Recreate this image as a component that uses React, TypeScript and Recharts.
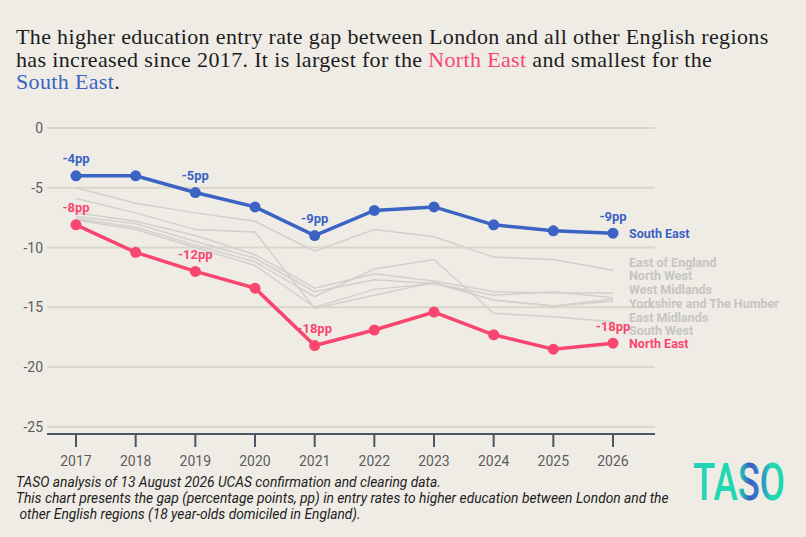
import React from 'react';
import { LineChart, Line, XAxis, YAxis, CartesianGrid, LabelList } from 'recharts';

const years = ['2017', '2018', '2019', '2020', '2021', '2022', '2023', '2024', '2025', '2026'];
const southEast = [-4.0, -4.0, -5.4, -6.6, -9.0, -6.9, -6.6, -8.1, -8.6, -8.8];
const northEast = [-8.1, -10.4, -12.0, -13.4, -18.2, -16.9, -15.4, -17.3, -18.5, -18.0];
const eastOfEngland = [-5.0, -6.3, -7.1, -7.8, -10.3, -8.5, -9.1, -10.8, -11.0, -11.9];
const northWest = [-7.1, -7.8, -9.0, -10.6, -13.4, -12.2, -12.8, -13.7, -13.8, -13.8];
const westMidlands = [-7.4, -8.0, -9.5, -10.9, -13.7, -12.7, -13.0, -14.0, -13.7, -14.2];
const yorkshire = [-5.9, -7.1, -8.5, -8.7, -15.1, -14.0, -12.9, -14.4, -14.9, -14.3];
const eastMidlands = [-7.7, -8.5, -10.0, -11.5, -15.0, -13.5, -13.0, -14.4, -14.9, -14.5];
const southWest = [-7.6, -8.3, -9.8, -11.2, -14.1, -11.8, -11.0, -15.5, -15.8, -16.2];
const yTicks = [0, -5, -10, -15, -20, -25];
const labelledIdx = [0, 2, 4, 9];

const greySeries = [
  { key: 'eoe', name: 'East of England', values: eastOfEngland, dy: -8 },
  { key: 'nw', name: 'North West', values: northWest, dy: -17 },
  { key: 'wm', name: 'West Midlands', values: westMidlands, dy: -8 },
  { key: 'yh', name: 'Yorkshire and The Humber', values: yorkshire, dy: 5 },
  { key: 'em', name: 'East Midlands', values: eastMidlands, dy: 16 },
  { key: 'sw', name: 'South West', values: southWest, dy: 9 },
];

const data = years.map((year, i) => {
  const row: any = { year, se: southEast[i], ne: northEast[i] };
  greySeries.forEach((g) => (row[g.key] = g.values[i]));
  return row;
});

const BLUE = '#3b63c3';
const PINK = '#f8466f';
const GREY_LINE = '#d2d0cb';
const GREY_TEXT = '#c6c5c1';
const FONT = 'Roboto, "Noto Sans", sans-serif';

const endLabel = (name: string, color: string, dy: number) => (p: any) => {
  if (p.index !== years.length - 1) return null;
  return (
    <text x={p.x + 16} y={p.y + dy} fill={color} fontSize={12.5} fontWeight={700} fontFamily={FONT} dominantBaseline="central">
      {name}
    </text>
  );
};

const valueLabel = (color: string) => (p: any) => {
  if (!labelledIdx.includes(p.index)) return null;
  return (
    <text x={p.x} y={p.y - 17} fill={color} fontSize={13} fontWeight={700} fontFamily={FONT} textAnchor="middle" dominantBaseline="central">
      {`${Math.round(p.value)}pp`}
    </text>
  );
};

export default function App() {
  return (
    <div style={{ position: 'absolute', left: 0, top: 0, width: 806, height: 537, background: '#efece6', overflow: 'hidden' }}>
      <div
        style={{
          position: 'absolute',
          left: 16,
          top: 26,
          fontFamily: '"Liberation Serif", serif',
          fontSize: 22,
          letterSpacing: 0.35,
          lineHeight: '22.5px',
          color: '#1c1c1c',
          whiteSpace: 'nowrap',
        }}
      >
        The higher education entry rate gap between London and all other English regions
        <br />
        has increased since 2017. It is largest for the <span style={{ color: PINK }}>North East</span> and smallest for the
        <br />
        <span style={{ color: BLUE }}>South East</span>.
      </div>
      <div style={{ position: 'absolute', left: 0, top: 0 }}>
        <LineChart width={806} height={537} data={data} margin={{ top: 128, right: 151, bottom: 73, left: 7 }}>
          <CartesianGrid vertical={false} stroke="#dad6cb" strokeWidth={2} />
          <XAxis
            dataKey="year"
            type="category"
            scale="point"
            height={30}
            padding={{ left: 29, right: 42 }}
            axisLine={{ stroke: '#4b5563', strokeWidth: 2 }}
            tickLine={{ stroke: '#4b5563', strokeWidth: 2 }}
            tickSize={13}
            tickMargin={9}
            tick={{ fill: '#5c5c5c', fontSize: 14, fontFamily: FONT }}
          />
          <YAxis
            type="number"
            domain={[-25.6, 0]}
            ticks={yTicks}
            width={40}
            axisLine={false}
            tickLine={false}
            tickSize={0}
            tickMargin={4}
            tick={{ fill: '#5c5c5c', fontSize: 14, fontFamily: FONT }}
          />
          {greySeries.map((g) => (
            <Line key={g.key} dataKey={g.key} stroke={GREY_LINE} strokeWidth={1.5} dot={false} activeDot={false} isAnimationActive={false}>
              <LabelList dataKey={g.key} content={endLabel(g.name, GREY_TEXT, g.dy)} />
            </Line>
          ))}
          <Line dataKey="ne" stroke={PINK} strokeWidth={3.5} dot={{ r: 5.5, fill: PINK, stroke: PINK, strokeWidth: 0 }} activeDot={false} isAnimationActive={false}>
            <LabelList dataKey="ne" content={valueLabel(PINK)} />
            <LabelList dataKey="ne" content={endLabel('North East', PINK, 0)} />
          </Line>
          <Line dataKey="se" stroke={BLUE} strokeWidth={3.5} dot={{ r: 5.5, fill: BLUE, stroke: BLUE, strokeWidth: 0 }} activeDot={false} isAnimationActive={false}>
            <LabelList dataKey="se" content={valueLabel(BLUE)} />
            <LabelList dataKey="se" content={endLabel('South East', BLUE, 0)} />
          </Line>
        </LineChart>
      </div>
      <div
        style={{
          position: 'absolute',
          left: 16,
          top: 474,
          fontFamily: FONT,
          fontStyle: 'italic',
          fontSize: 13.8,
          lineHeight: '16px',
          color: '#222',
          whiteSpace: 'nowrap',
        }}
      >
        TASO analysis of 13 August 2026 UCAS confirmation and clearing data.
        <br />
        This chart presents the gap (percentage points, pp) in entry rates to higher education between London and the
        <br />
        &nbsp;other English regions (18 year-olds domiciled in England).
      </div>
      <svg style={{ position: 'absolute', left: 680, top: 450 }} width={126} height={60}>
        <defs>
          <linearGradient id="tasoGrad" x1="0" y1="0" x2="1" y2="0">
            <stop offset="0" stopColor="#2fc9c0" />
            <stop offset="0.18" stopColor="#20d8b2" />
            <stop offset="0.5" stopColor="#1fd8b0" />
            <stop offset="0.62" stopColor="#3a5cc8" />
            <stop offset="0.75" stopColor="#2f8fc4" />
            <stop offset="0.85" stopColor="#1fd8b0" />
          </linearGradient>
        </defs>
        <text x={13} y={50} fontFamily={FONT} fontSize={51} fontWeight={500} fill="url(#tasoGrad)" textLength={92} lengthAdjust="spacingAndGlyphs">
          TASO
        </text>
      </svg>
    </div>
  );
}
